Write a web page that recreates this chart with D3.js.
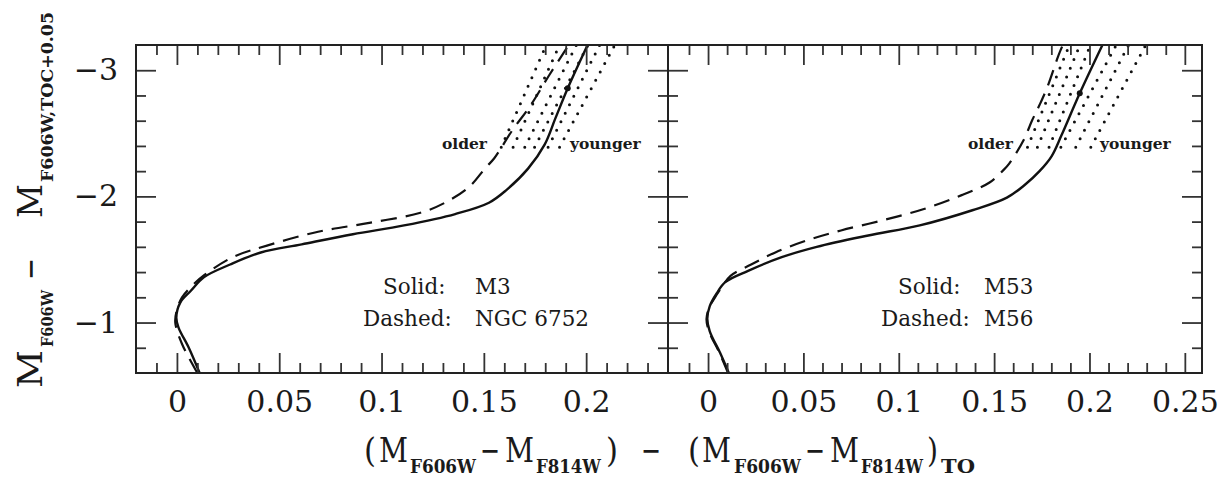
<!DOCTYPE html>
<html>
<head>
<meta charset="utf-8">
<script src="https://cdn.jsdelivr.net/npm/d3@7"></script>
<style>
    html, body { margin: 0; padding: 0; background: #fff; }
    svg { display: block; }
    text { font-family: 'DejaVu Serif', serif; fill: #1a1a1a; }
</style>
</head>
<body>
<svg id="chart" width="1220" height="478"></svg>
<script>
// left panel: M3 (solid) and NGC 6752 (dashed)
const m3Color = [0.0111, 0.0058, 0.0008, -0.0003, 0.0017, 0.0067, 0.0133, 0.026, 0.041, 0.061, 0.086, 0.111, 0.136, 0.1525, 0.161, 0.1716, 0.1797, 0.185, 0.191, 0.2007];
const m3Mag = [-0.6, -0.8, -0.96, -1.04, -1.16, -1.25, -1.36, -1.46, -1.555, -1.62, -1.7, -1.77, -1.86, -1.95, -2.05, -2.22, -2.41, -2.62, -2.857, -3.2];
const ngc6752Color = [0.01, 0.0025, -0.0008, 0.0, 0.0025, 0.0067, 0.0133, 0.0275, 0.044, 0.069, 0.094, 0.119, 0.131, 0.1425, 0.151, 0.155, 0.164, 0.1724, 0.182, 0.1915];
const ngc6752Mag = [-0.6, -0.83, -1.0, -1.1, -1.2, -1.28, -1.375, -1.52, -1.61, -1.72, -1.79, -1.87, -1.95, -2.07, -2.23, -2.3, -2.526, -2.711, -2.962, -3.2];

// right panel: M53 (solid) and M56 (dashed)
const m53Color = [0.0109, 0.0063, 0.0009, -0.0004, 0.0009, 0.0045, 0.009, 0.021, 0.039, 0.057, 0.084, 0.111, 0.1386, 0.1567, 0.166, 0.1738, 0.1802, 0.1852, 0.1949, 0.2068];
const m53Mag = [-0.6, -0.76, -0.93, -1.03, -1.13, -1.23, -1.32, -1.41, -1.52, -1.6, -1.69, -1.77, -1.89, -1.99, -2.09, -2.2, -2.32, -2.48, -2.817, -3.2];
const m56Color = [0.0105, 0.006, 0.0005, -0.0008, 0.001, 0.0045, 0.0072, 0.0118, 0.0226, 0.0353, 0.0516, 0.0697, 0.0915, 0.1132, 0.133, 0.1476, 0.155, 0.158, 0.1655, 0.17, 0.1738, 0.178, 0.1838, 0.186];
const m56Mag = [-0.6, -0.76, -0.93, -1.03, -1.13, -1.22, -1.28, -1.37, -1.46, -1.556, -1.65, -1.73, -1.81, -1.9, -2.01, -2.11, -2.21, -2.262, -2.447, -2.605, -2.724, -2.87, -3.12, -3.2];

// dotted isochrone RGBs (older -> younger), color at the bottom and top magnitude
const isoMag = [-2.39, -3.2];
const leftIsoBottom = [0.1585, 0.1643, 0.17, 0.1748, 0.1814, 0.187];
const leftIsoTop = [0.1805, 0.187, 0.1952, 0.2009, 0.2066, 0.214];
const rightIsoBottom = [0.1675, 0.1727, 0.1788, 0.185, 0.1928, 0.2007];
const rightIsoTop = [0.1895, 0.195, 0.2005, 0.214, 0.2205, 0.2295];

const leftDot = [0.191, -2.857];
const rightDot = [0.1949, -2.817];

const leftXTicks = [0, 0.05, 0.1, 0.15, 0.2];
const rightXTicks = [0, 0.05, 0.1, 0.15, 0.2, 0.25];
const yTicks = [-3, -2, -1];
const legendKeys = ['Solid:', 'Dashed:'];

const svg = d3.select('#chart');
const plotTop = 45;
const plotBottom = 373;
const y = d3.scaleLinear().domain([-0.6, -3.2]).range([plotBottom, plotTop]);
const yMinor = d3.range(-15, -3).map((i) => i / 5).filter((v) => !Number.isInteger(v));

const panels = [
    {
        left: 136, right: 668, domain: [-0.02, 0.24], ticks: leftXTicks,
        solid: d3.zip(m3Color, m3Mag), dashed: d3.zip(ngc6752Color, ngc6752Mag),
        isoBottom: leftIsoBottom, isoTop: leftIsoTop, dot: leftDot,
        names: ['M3', 'NGC 6752'], keyX: [247, 227], nameX: 339,
        olderEnd: 351, youngerStart: 434, yLabels: true,
    },
    {
        left: 668, right: 1202, domain: [-0.021, 0.259], ticks: rightXTicks,
        solid: d3.zip(m53Color, m53Mag), dashed: d3.zip(m56Color, m56Mag),
        isoBottom: rightIsoBottom, isoTop: rightIsoTop, dot: rightDot,
        names: ['M53', 'M56'], keyX: [230, 213], nameX: 316,
        olderEnd: 345, youngerStart: 432, yLabels: false,
    },
];

function styleAxis(g) {
    g.select('.domain').remove();
    g.attr('font-family', 'DejaVu Serif').attr('font-size', 30);
    g.selectAll('.tick line').attr('stroke', '#333').attr('stroke-width', 1.8);
    g.selectAll('.tick text').attr('fill', '#1a1a1a');
}

panels.forEach((p, idx) => {
    const x = d3.scaleLinear().domain(p.domain).range([p.left, p.right]);
    const xMinor = d3.range(-1, 26)
        .map((i) => i / 100)
        .filter((v) => Math.round(v * 100) % 5 !== 0 && v > p.domain[0] && v < p.domain[1]);
    const line = d3.line()
        .x((d) => x(d[0]))
        .y((d) => y(d[1]))
        .curve(d3.curveCatmullRom.alpha(0.5));

    svg.append('clipPath')
        .attr('id', `clip${idx}`)
        .append('rect')
        .attr('x', p.left)
        .attr('y', plotTop)
        .attr('width', p.right - p.left)
        .attr('height', plotBottom - plotTop);

    const g = svg.append('g').attr('clip-path', `url(#clip${idx})`);

    p.isoBottom.forEach((c, i) => {
        g.append('path')
            .attr('d', d3.line().x((d) => x(d[0])).y((d) => y(d[1]))([[c, isoMag[0]], [p.isoTop[i], isoMag[1]]]))
            .attr('fill', 'none')
            .attr('stroke', '#111')
            .attr('stroke-width', 3)
            .attr('stroke-linecap', 'round')
            .attr('stroke-dasharray', '0,9.5');
    });

    g.append('path')
        .attr('d', line(p.dashed))
        .attr('fill', 'none')
        .attr('stroke', '#111')
        .attr('stroke-width', 2.2)
        .attr('stroke-dasharray', '16,9');

    g.append('path')
        .attr('d', line(p.solid))
        .attr('fill', 'none')
        .attr('stroke', '#111')
        .attr('stroke-width', 2.4);

    g.append('circle')
        .attr('cx', x(p.dot[0]))
        .attr('cy', y(p.dot[1]))
        .attr('r', 3)
        .attr('fill', '#111');

    // ticks on all four sides, pointing inward
    svg.append('g')
        .attr('transform', `translate(0,${plotBottom})`)
        .call(d3.axisBottom(x).tickValues(p.ticks).tickSize(-20).tickPadding(18).tickFormat(d3.format('~g')))
        .call(styleAxis);
    svg.append('g')
        .attr('transform', `translate(0,${plotBottom})`)
        .call(d3.axisBottom(x).tickValues(xMinor).tickSize(-10).tickFormat(''))
        .call(styleAxis);
    svg.append('g')
        .attr('transform', `translate(0,${plotTop})`)
        .call(d3.axisTop(x).tickValues(p.ticks).tickSize(-20).tickFormat(''))
        .call(styleAxis);
    svg.append('g')
        .attr('transform', `translate(0,${plotTop})`)
        .call(d3.axisTop(x).tickValues(xMinor).tickSize(-10).tickFormat(''))
        .call(styleAxis);
    svg.append('g')
        .attr('transform', `translate(${p.left},0)`)
        .call(d3.axisLeft(y).tickValues(yTicks).tickSize(-20).tickPadding(18)
            .tickFormat(p.yLabels ? d3.format('d') : ''))
        .call(styleAxis);
    svg.append('g')
        .attr('transform', `translate(${p.left},0)`)
        .call(d3.axisLeft(y).tickValues(yMinor).tickSize(-10).tickFormat(''))
        .call(styleAxis);
    svg.append('g')
        .attr('transform', `translate(${p.right},0)`)
        .call(d3.axisRight(y).tickValues(yTicks).tickSize(-20).tickFormat(''))
        .call(styleAxis);
    svg.append('g')
        .attr('transform', `translate(${p.right},0)`)
        .call(d3.axisRight(y).tickValues(yMinor).tickSize(-10).tickFormat(''))
        .call(styleAxis);

    svg.append('rect')
        .attr('x', p.left)
        .attr('y', plotTop)
        .attr('width', p.right - p.left)
        .attr('height', plotBottom - plotTop)
        .attr('fill', 'none')
        .attr('stroke', '#222')
        .attr('stroke-width', 2);

    svg.append('text')
        .attr('x', p.left + p.olderEnd)
        .attr('y', 149)
        .attr('text-anchor', 'end')
        .attr('font-size', 15.5)
        .attr('font-weight', 'bold')
        .text('older');
    svg.append('text')
        .attr('x', p.left + p.youngerStart)
        .attr('y', 149)
        .attr('font-size', 15.5)
        .attr('font-weight', 'bold')
        .text('younger');

    legendKeys.forEach((key, i) => {
        const baseline = 294 + i * 32;
        svg.append('text')
            .attr('x', p.left + p.keyX[i])
            .attr('y', baseline)
            .attr('font-size', 21.5)
            .text(key);
        svg.append('text')
            .attr('x', p.left + p.nameX)
            .attr('y', baseline)
            .attr('font-size', 21.5)
            .text(p.names[i]);
    });
});

// axis titles: [text, start, width, subscript]
function drawTitle(parent, parts, baseline, subBaseline, subSize) {
    parts.forEach(([t, start, width, sub]) => {
        parent.append('text')
            .attr('x', start)
            .attr('y', sub ? subBaseline : baseline)
            .attr('font-size', sub ? subSize : 34)
            .attr('font-weight', sub ? 'bold' : 'normal')
            .attr('textLength', width)
            .attr('lengthAdjust', 'spacingAndGlyphs')
            .text(t);
    });
}

drawTitle(svg, [
    ['(', 364, 12], ['M', 379, 29], ['F606W', 410, 66, true], ['\u2212', 480, 20], ['M', 505, 29],
    ['F814W', 536, 65, true], [')', 606, 12], ['\u2212', 641, 20], ['(', 688, 12], ['M', 702, 29],
    ['F606W', 734, 67, true], ['\u2212', 805, 20], ['M', 830, 29], ['F814W', 861, 62, true],
    [')', 927, 11], ['TO', 941, 34, true],
], 462, 473, 18);

const yTitle = svg.append('g').attr('transform', 'translate(42,390) rotate(-90)');
drawTitle(yTitle, [
    ['M', 2, 38], ['F606W', 43, 57, true], ['\u2212', 110, 22], ['M', 172, 34],
    ['F606W,TOC+0.05', 208, 170, true],
], 0, 11, 16.5);
</script>
</body>
</html>
